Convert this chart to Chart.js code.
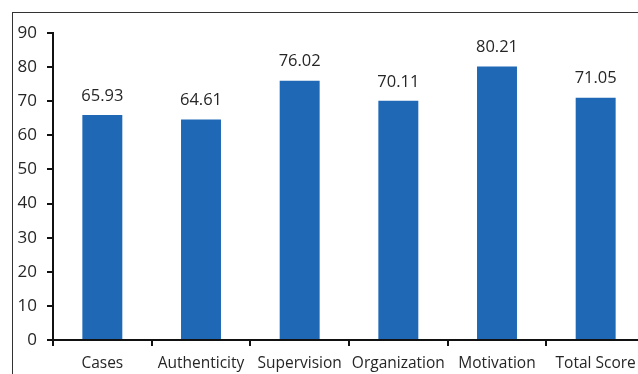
<!DOCTYPE html>
<html>
<head>
<meta charset="utf-8">
<script src="https://cdn.jsdelivr.net/npm/chart.js@4"></script>
<style>
  html, body { margin: 0; padding: 0; background: #fff; overflow: hidden; }
  #wrap { position: relative; width: 638px; height: 374px; overflow: hidden; }
  #frame { position: absolute; left: 12px; top: 12px; width: 700px; height: 400px;
           border-left: 1.5px solid #333; border-top: 1.5px solid #333; }
  #holder { position: absolute; left: 0; top: 0; width: 660px; height: 374px; }
</style>
</head>
<body>
<div id="wrap">
  <div id="frame"></div>
  <div id="holder"><canvas id="scoreChart"></canvas></div>
</div>
<script>
var categories = ["Cases", "Authenticity", "Supervision", "Organization", "Motivation", "Total Score"];
var scores = [65.93, 64.61, 76.02, 70.11, 80.21, 71.05];
var yTicks = [0, 10, 20, 30, 40, 50, 60, 70, 80, 90];

var fontFamily = "'Open Sans', 'Noto Sans', sans-serif";

// draws the value above each bar
var valueLabels = {
  id: 'valueLabels',
  afterDatasetsDraw: function(chart) {
    var ctx = chart.ctx;
    var meta = chart.getDatasetMeta(0);
    ctx.save();
    ctx.font = "16.5px " + fontFamily;
    ctx.fillStyle = '#262626';
    ctx.textAlign = 'center';
    ctx.textBaseline = 'middle';
    meta.data.forEach(function(bar, i) {
      ctx.fillText(scores[i].toFixed(2), bar.x, bar.y - 19);
    });
    ctx.restore();
  }
};

var ctx = document.getElementById('scoreChart').getContext('2d');
var scoreChart = new Chart(ctx, {
  type: 'bar',
  data: {
    labels: categories,
    datasets: [{
      data: scores,
      backgroundColor: '#1f68b6',
      borderWidth: 0,
      barPercentage: 0.405,
      categoryPercentage: 1.0
    }]
  },
  options: {
    responsive: true,
    maintainAspectRatio: false,
    animation: false,
    layout: { padding: { left: 0, top: 33, right: 15, bottom: 0 } },
    plugins: { legend: { display: false }, tooltip: { enabled: false } },
    scales: {
      x: {
        grid: { display: true, drawOnChartArea: false, offset: true, tickLength: 6, color: '#111', lineWidth: 2 },
        border: { display: true, color: '#111', width: 2 },
        ticks: { color: '#262626', font: { family: fontFamily, size: 15.5 }, padding: 8, maxRotation: 0, autoSkip: false },
        afterFit: function(scale) { scale.height = 34; }
      },
      y: {
        min: 0,
        max: 90,
        afterBuildTicks: function(scale) {
          scale.ticks = yTicks.map(function(v) { return { value: v }; });
        },
        grid: { display: true, drawOnChartArea: false, tickLength: 6, color: '#111', lineWidth: 2 },
        border: { display: true, color: '#111', width: 2 },
        ticks: { color: '#262626', font: { family: fontFamily, size: 17 }, padding: 10 },
        afterFit: function(scale) { scale.width = 53; }
      }
    }
  },
  plugins: [valueLabels]
});
</script>
</body>
</html>
